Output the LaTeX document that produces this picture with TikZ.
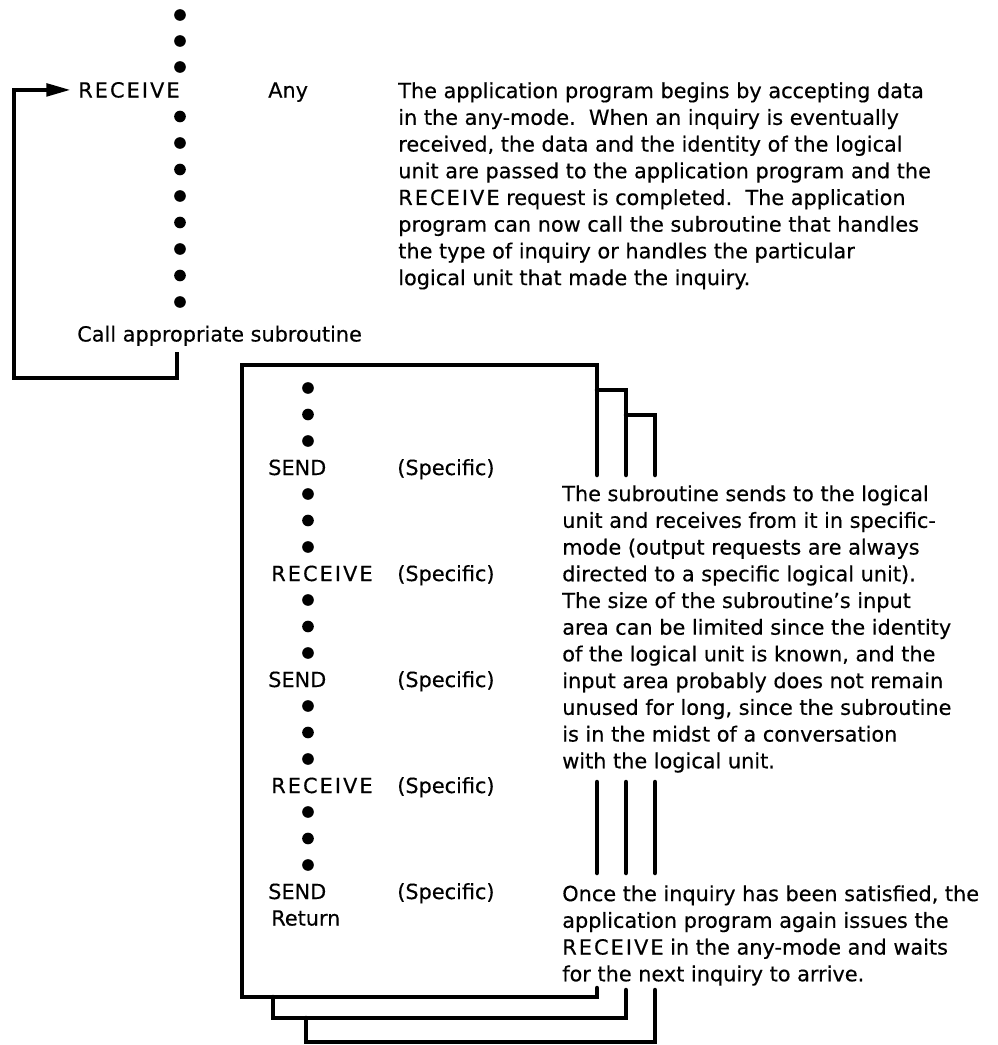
\documentclass[tikz,border=0pt]{standalone}
\usepackage{fontspec}
\setmainfont[FakeBold=0.4]{DejaVu Sans}
\newfontfamily\widefont[LetterSpace=10,FakeBold=0.4]{DejaVu Sans}
\usetikzlibrary{arrows.meta}
\newcommand{\rcvword}{{\widefont RECEIVE}}
\tikzset{
	bullet/.style={circle, fill, inner sep=0pt, minimum size=8.3pt},
	lbl/.style={anchor=base west, inner sep=0pt},
	para/.style={anchor=north west, inner sep=0pt, align=left},
	wire/.style={line width=2.4pt},
	rim/.style={line width=3.2pt, line cap=round},
}

\begin{document}
\begin{tikzpicture}[x=0.025cm, y=-0.025cm, font=\fontsize{14.8}{19}\selectfont]
	\useasboundingbox (0,0) rectangle (998,1045);

	% main program, waiting in any-mode
	\foreach \y [count=\i] in {15,41,67,116.5,143,169.5,196,222.5,249,275.5,302}
		\node[bullet] (top\i) at (180,\y) {};
	\node[lbl] (recv) at (78,97.5) {\rcvword};
	\node[lbl] (any) at (268,97.5) {Any};
	\node[lbl] (call) at (77,341.5) {Call appropriate subroutine};
	\node[para] (intro) at (398,82) {The application program begins by accepting data\\
		in the any-mode.\ \ When an inquiry is eventually\\
		received, the data and the identity of the logical\\
		unit are passed to the application program and the\\
		\rcvword{} request is completed.\ \ The application\\
		program can now call the subroutine that handles\\
		the type of inquiry or handles the particular\\
		logical unit that made the inquiry.};

	% loop back to the receive
	\coordinate (hook) at (177,352);
	\coordinate (back) at (14,378);
	\draw[wire, -{Triangle[length=17pt,width=9pt]}, shorten >=5.5pt] (hook) |- (back) |- (recv.west);

	% the stacked subroutine sheets
	\draw[rim] (597,475) -- (597,365) -- (242,365) -- (242,997) -- (597,997) -- (597,988);
	\draw[rim] (626,475) -- (626,390) -- (597,390);
	\draw[rim] (655,475) -- (655,415) -- (626,415);
	\draw[rim] (273,997) -- (273,1018) -- (626,1018) -- (626,990);
	\draw[rim] (306,1018) -- (306,1042) -- (655,1042) -- (655,990);
	\foreach \x in {597,626,655}
		\draw[rim] (\x,782) -- (\x,873);

	% subroutine body
	\foreach \k in {0,1,2,4,5,6,8,9,10,12,13,14,16,17,18}
		\node[bullet] (sub\k) at (308,388+26.5*\k) {};
	\node[lbl] (send1) at (268,475) {SEND};
	\node[lbl] (spec1) at (397,475) {(Specific)};
	\node[lbl] (recv1) at (271,581) {\rcvword};
	\node[lbl] (spec2) at (397,581) {(Specific)};
	\node[lbl] (send2) at (268,687) {SEND};
	\node[lbl] (spec3) at (397,687) {(Specific)};
	\node[lbl] (recv2) at (271,793) {\rcvword};
	\node[lbl] (spec4) at (397,793) {(Specific)};
	\node[lbl] (send3) at (268,899) {SEND};
	\node[lbl] (spec5) at (397,899) {(Specific)};
	\node[lbl] (ret) at (271,925.5) {Return};

	\node[para] (talk) at (562,485) {The subroutine sends to the logical\\
		unit and receives from it in specific-\\
		mode (output requests are always\\
		directed to a specific logical unit).\\
		The size of the subroutine's input\\
		area can be limited since the identity\\
		of the logical unit is known, and the\\
		input area probably does not remain\\
		unused for long, since the subroutine\\
		is in the midst of a conversation\\
		with the logical unit.};
	\node[para] (done) at (562,885) {Once the inquiry has been satisfied, the\\
		application program again issues the\\
		\rcvword{} in the any-mode and waits\\
		for the next inquiry to arrive.};
\end{tikzpicture}
\end{document}
